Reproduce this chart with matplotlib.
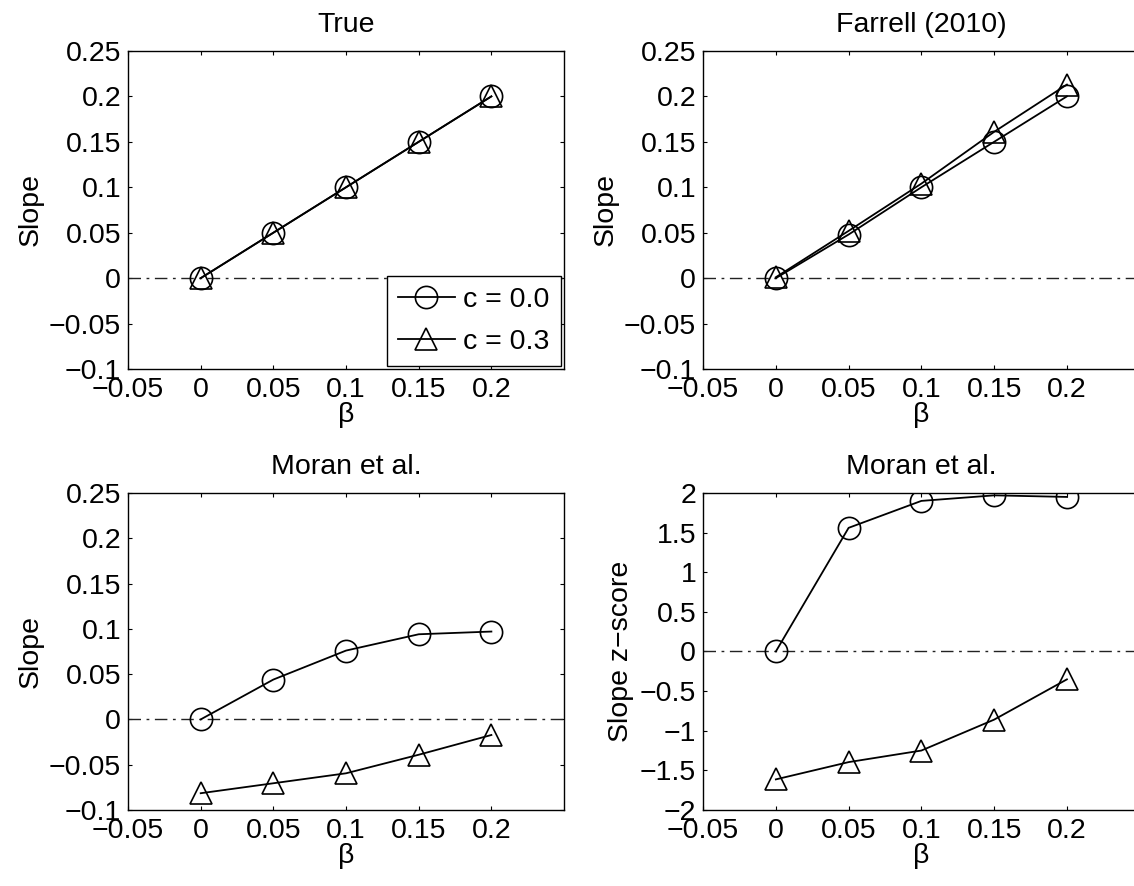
import matplotlib
matplotlib.use('Agg')
import matplotlib.pyplot as plt
import numpy as np
from matplotlib.ticker import FuncFormatter

plt.rcParams['font.family'] = ['Liberation Sans', 'DejaVu Sans']
plt.rcParams['axes.unicode_minus'] = True

beta = [0, 0.05, 0.1, 0.15, 0.2]

true_c0 = [0, 0.05, 0.1, 0.15, 0.2]
true_c3 = [0, 0.05, 0.1, 0.15, 0.2]

farrell_c0 = [0, 0.048, 0.1, 0.15, 0.2]
farrell_c3 = [0.001, 0.052, 0.104, 0.161, 0.213]

moran_c0 = [0, 0.044, 0.076, 0.094, 0.097]
moran_c3 = [-0.0815, -0.0705, -0.0595, -0.039, -0.0172]

moranz_c0 = [0, 1.56, 1.9, 1.97, 1.95]
moranz_c3 = [-1.614, -1.396, -1.25, -0.86, -0.352]

titles = ['True', 'Farrell (2010)', 'Moran et al.', 'Moran et al.']
ylabels = ['Slope', 'Slope', 'Slope', 'Slope z\u2212score']
legend_labels = ['c = 0.0', 'c = 0.3']


def fmt(v, pos):
    s = '%g' % round(v, 6)
    return s.replace('-', '\u2212')


fig = plt.figure(figsize=(11.34, 8.86), dpi=100)
boxes = [
    [0.1129, 0.5835, 0.3845, 0.359],
    [0.620, 0.5835, 0.385, 0.359],
    [0.1129, 0.0858, 0.3845, 0.3578],
    [0.620, 0.0858, 0.385, 0.3578],
]
series = [
    (true_c0, true_c3),
    (farrell_c0, farrell_c3),
    (moran_c0, moran_c3),
    (moranz_c0, moranz_c3),
]

fs = 20.5
for i in range(4):
    ax = fig.add_axes(boxes[i])
    c0, c3 = series[i]
    ax.axhline(0, color='#222222', linestyle=(0, (9, 4, 2, 4)), linewidth=1.0)
    l1, = ax.plot(beta, c0, color='black', marker='o', markersize=16,
                  fillstyle='none', markeredgewidth=1.2, linewidth=1.3)
    l2, = ax.plot(beta, c3, color='black', marker='^', markersize=16,
                  fillstyle='none', markeredgewidth=1.2, linewidth=1.3)
    ax.set_xlim(-0.05, 0.25)
    ax.set_xticks([-0.05, 0, 0.05, 0.1, 0.15, 0.2])
    if i == 3:
        ax.set_ylim(-2, 2)
        ax.set_yticks(np.arange(-2, 2.01, 0.5))
    else:
        ax.set_ylim(-0.1, 0.25)
        ax.set_yticks(np.arange(-0.1, 0.2501, 0.05))
    ax.xaxis.set_major_formatter(FuncFormatter(fmt))
    ax.yaxis.set_major_formatter(FuncFormatter(fmt))
    ax.tick_params(direction='in', top=True, right=True, length=3,
                   width=0.8, labelsize=fs)
    ax.tick_params(axis='x', pad=6)
    ax.tick_params(axis='y', pad=5)
    for sp in ax.spines.values():
        sp.set_linewidth(1.0)
    ax.set_title(titles[i], fontsize=fs, pad=14)
    ax.set_xlabel('\u03b2', fontsize=fs, labelpad=-1)
    ax.set_ylabel(ylabels[i], fontsize=fs, labelpad=4)
    if i == 0:
        ax.legend([l1, l2], legend_labels, loc='lower right', fontsize=fs,
                  fancybox=False, edgecolor='black', framealpha=1,
                  borderaxespad=0.1, handlelength=2.0, handletextpad=0.3,
                  borderpad=0.4, labelspacing=0.55)

fig.savefig('out.png', dpi=100)
